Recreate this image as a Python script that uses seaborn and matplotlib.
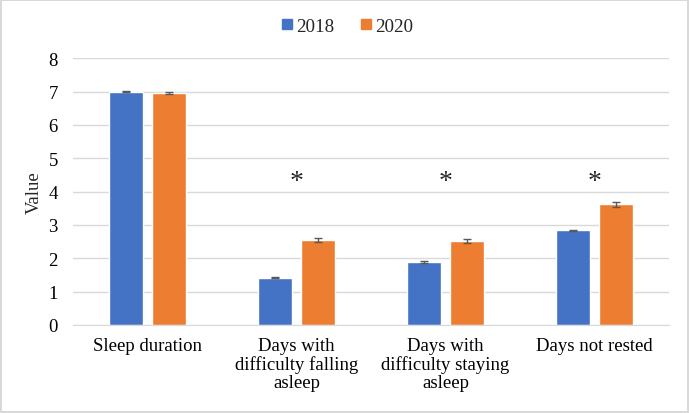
import numpy as np
import pandas as pd
import matplotlib
matplotlib.use("Agg")
import matplotlib.pyplot as plt
from matplotlib.lines import Line2D
import seaborn as sns

# Данные
categories = ["Sleep duration", "Days with\ndifficulty falling\nasleep",
              "Days with\ndifficulty staying\nasleep", "Days not rested"]
years = ["2018", "2020"]
values_2018 = [7.00, 1.42, 1.89, 2.84]
values_2020 = [6.96, 2.55, 2.52, 3.62]
err_2018 = [0.02, 0.02, 0.02, 0.02]
err_2020 = [0.04, 0.07, 0.07, 0.07]
significant = [False, True, True, True]
star_level = 4.3

df = pd.DataFrame({
    "category": categories * 2,
    "year": [years[0]] * 4 + [years[1]] * 4,
    "value": values_2018 + values_2020,
})

sns.set_style("white")
plt.rcParams["font.family"] = ["Liberation Serif", "DejaVu Serif"]

fig = plt.figure(figsize=(6.89, 4.14), dpi=100, edgecolor="#D9D9D9", linewidth=1.5)
ax = fig.add_axes([0.106, 0.2126, 0.865, 0.6444])

palette = {"2018": "#4472C4", "2020": "#ED7D31"}
sns.barplot(data=df, x="category", y="value", hue="year", palette=palette,
            errorbar=None, width=0.574, gap=0.22, saturation=1, ax=ax, zorder=2)

# Планки погрешностей
for cont, errs in zip(ax.containers, [err_2018, err_2020]):
    xs = [p.get_x() + p.get_width() / 2 for p in cont.patches]
    hs = [p.get_height() for p in cont.patches]
    ax.errorbar(xs, hs, yerr=errs, fmt="none", ecolor="#595959",
                elinewidth=1, capsize=3, capthick=1, zorder=3)

# Звёздочки значимости
for i, sig in enumerate(significant):
    if sig:
        ax.text(i, star_level, "*", ha="center", va="center", fontsize=20)

ax.set_ylim(0, 8)
ax.set_xlim(-0.5, 3.5)
ax.set_yticks(range(0, 9))
ax.yaxis.grid(True, color="#D9D9D9", linewidth=1, zorder=0)
ax.set_axisbelow(True)
for s in ["top", "right", "left"]:
    ax.spines[s].set_visible(False)
ax.spines["bottom"].set_color("#D9D9D9")
ax.tick_params(axis="both", length=0, labelsize=13.5, colors="black")
ax.tick_params(axis="x", pad=9)
ax.tick_params(axis="y", pad=11)
for lab in ax.get_xticklabels():
    lab.set_linespacing(1.05)
ax.set_xlabel("")
ax.set_ylabel("Value", fontsize=13.5, labelpad=4)

# Легенда с квадратными маркерами
ax.get_legend().remove()
handles = [Line2D([], [], marker="s", linestyle="none", markersize=7,
                  markerfacecolor=palette[y], markeredgecolor=palette[y]) for y in years]
fig.legend(handles, years, loc="center", bbox_to_anchor=(0.504, 0.935), ncol=2,
           frameon=False, fontsize=13.7, handlelength=0.6,
           columnspacing=1.4, handletextpad=0.15)

fig.savefig("out.png", dpi=100)
